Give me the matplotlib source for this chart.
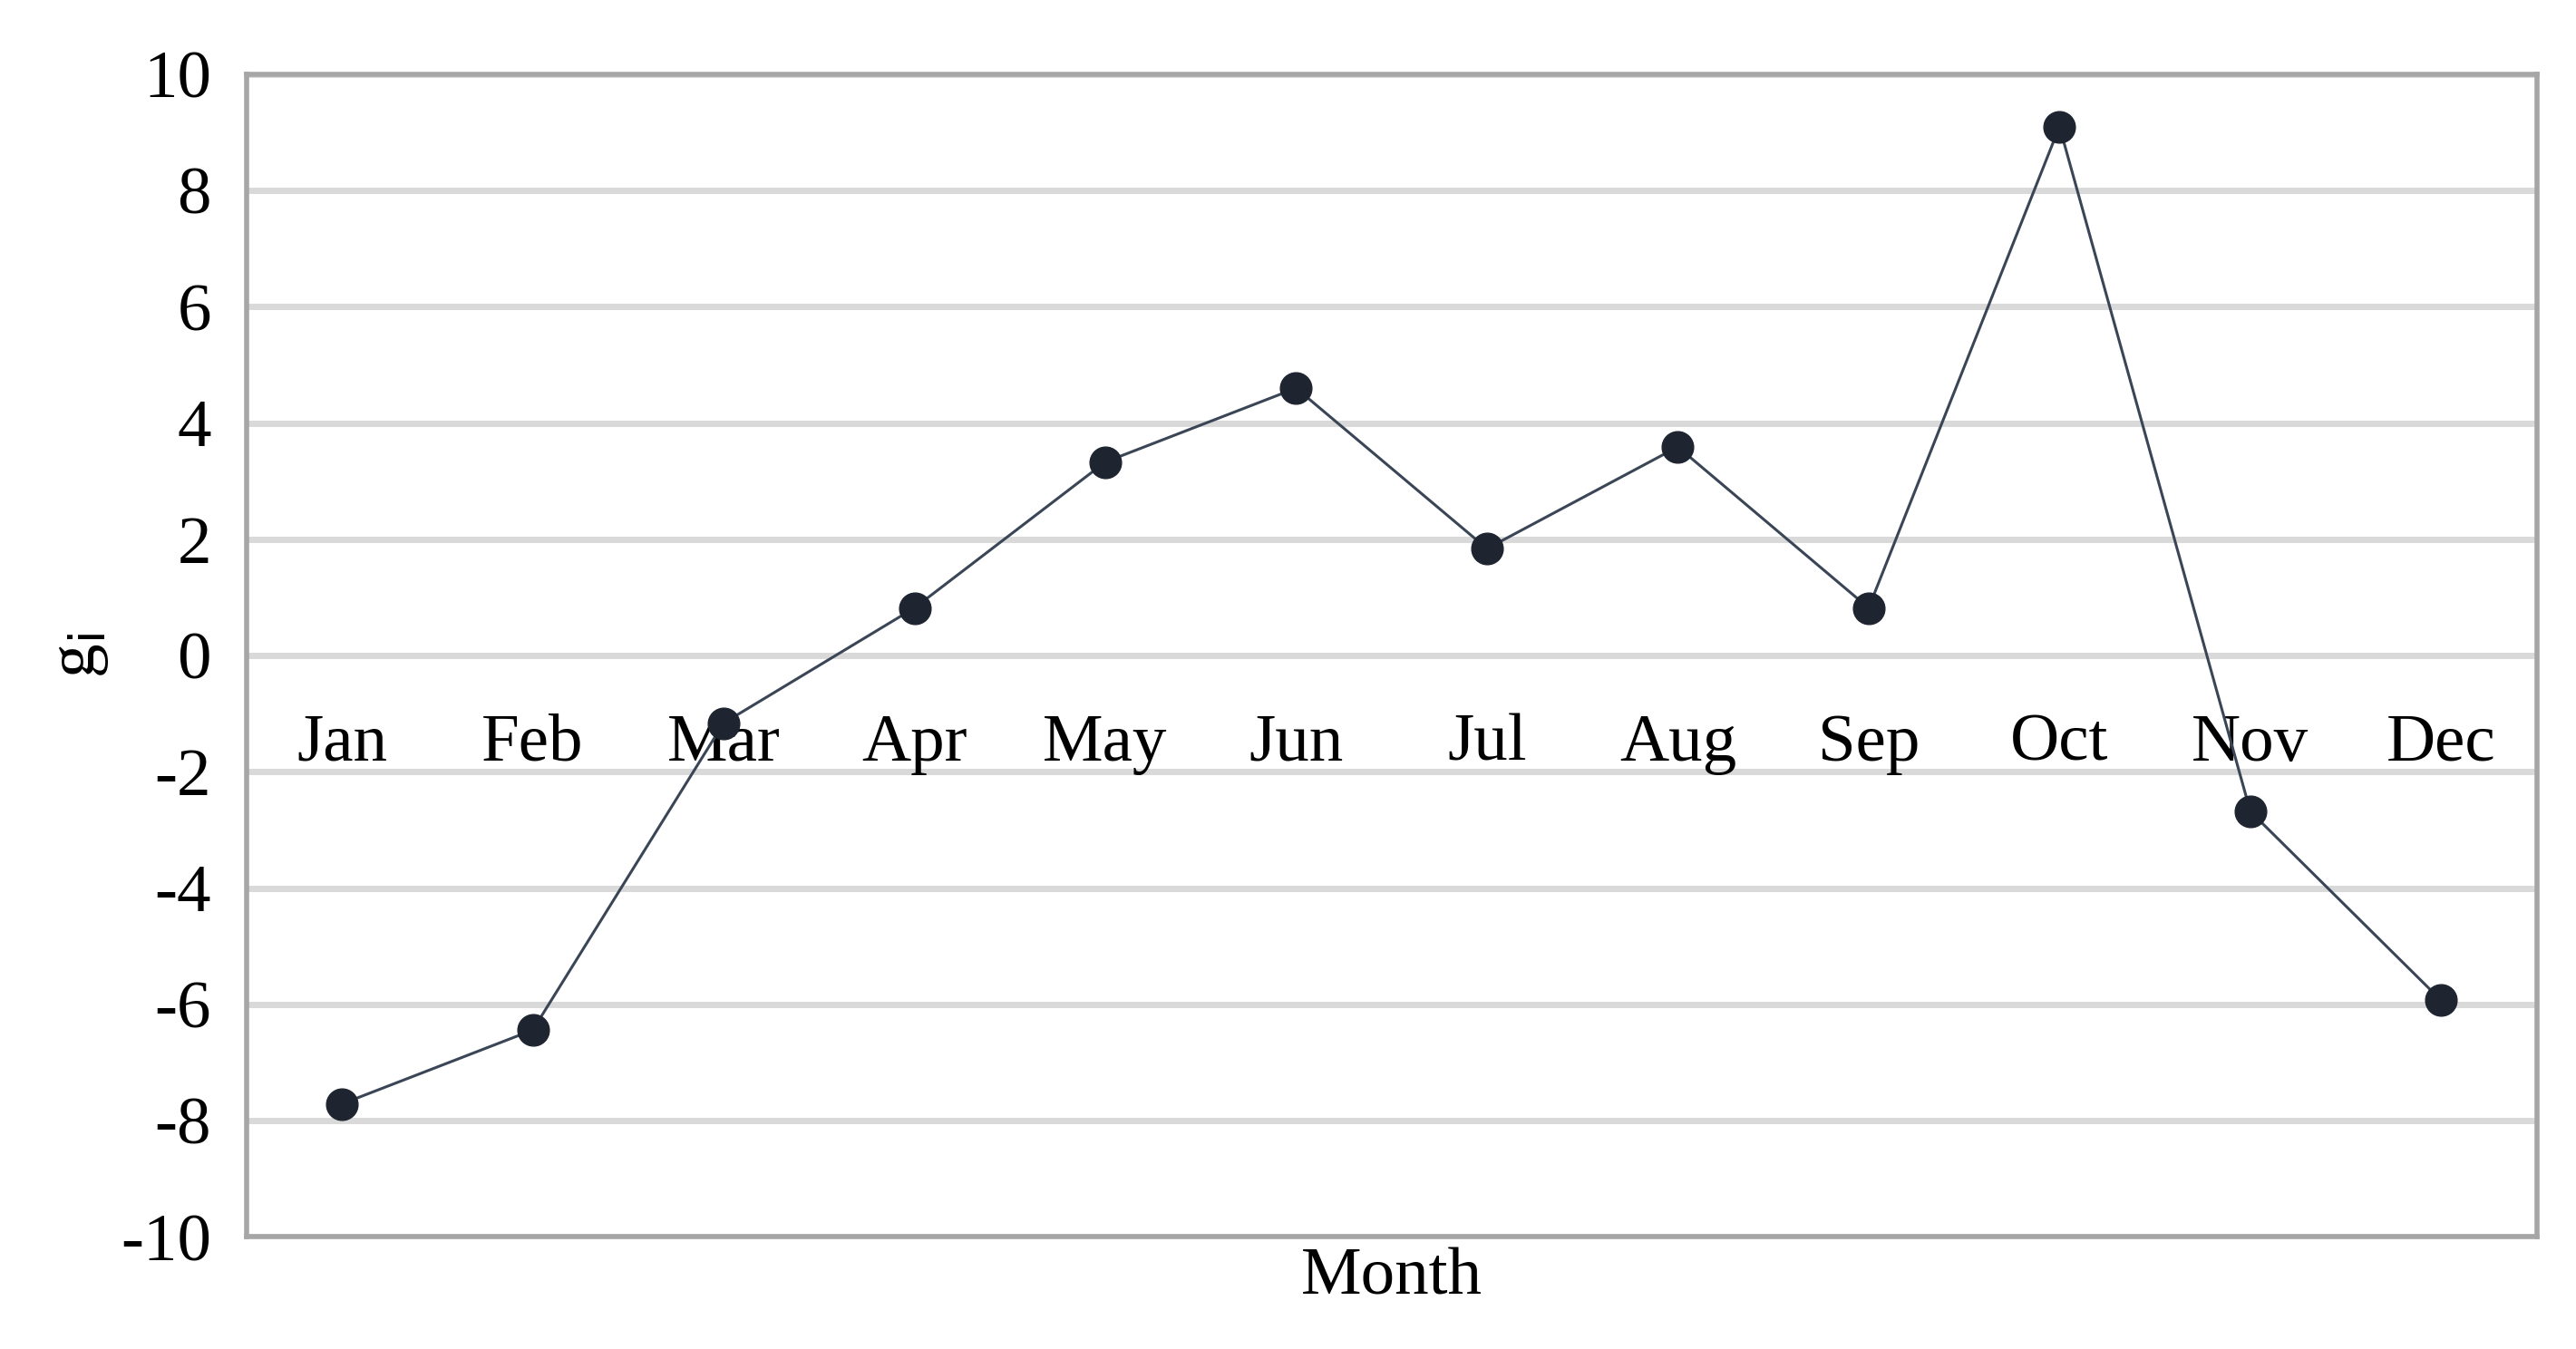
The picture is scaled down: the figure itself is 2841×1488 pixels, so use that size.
import matplotlib
matplotlib.use("Agg")
import matplotlib.pyplot as plt

months = ["Jan","Feb","Mar","Apr","May","Jun","Jul","Aug","Sep","Oct","Nov","Dec"]
values = [-7.71,-6.44,-1.16,0.82,3.33,4.60,1.84,3.59,0.82,9.10,-2.68,-5.93]
yticks = list(range(-10, 11, 2))

plt.rcParams['font.family'] = ['Liberation Serif', 'DejaVu Serif']
fig = plt.figure(figsize=(28.41, 14.88), dpi=100)
ax = fig.add_axes([0.0957, 0.083, 0.889, 0.862])
x = list(range(len(months)))
ax.set_xlim(-0.5, len(months) - 0.5)
ax.set_ylim(-10, 10)
for t in yticks:
    ax.axhline(t, color='#d9d9d9', lw=5, zorder=1)
ax.plot(x, values, color='#3a4556', lw=2.2, marker='o', ms=25,
        mfc='#1f2530', mec='#1f2530', zorder=3)
ax.set_yticks(yticks)
ax.set_yticklabels([str(t) for t in yticks], fontsize=54)
ax.tick_params(axis='y', length=0, pad=28)
ax.set_xticks([])
for xi, m in zip(x, months):
    ax.text(xi, -1.0, m, ha='center', va='top', fontsize=54, zorder=2)
for s in ax.spines.values():
    s.set_color('#a6a6a6'); s.set_linewidth(4)
ax.set_xlabel("Month", fontsize=54, labelpad=8)
ax.set_ylabel("g$_\\mathrm{i}$", fontsize=54, labelpad=8)
fig.savefig("out.png", dpi=100)
